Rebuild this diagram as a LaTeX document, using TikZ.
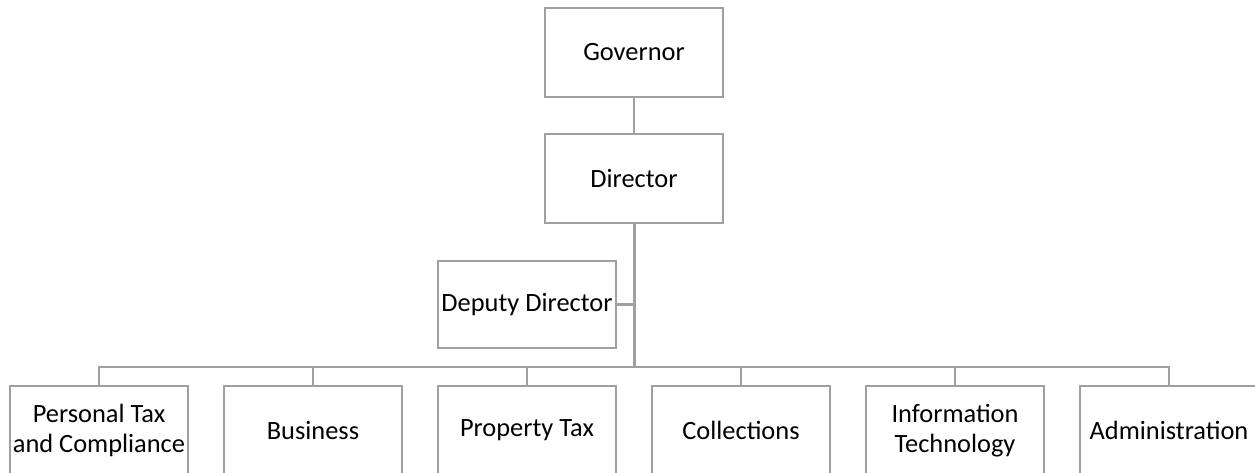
\documentclass[tikz,border=0pt]{standalone}
\usepackage{fontspec}
\setmainfont{Carlito}

\definecolor{linegray}{RGB}{160,160,160}
\tikzset{every picture/.style={line width=0.75pt}}
\tikzset{
  orgbox/.style={draw=linegray, line width=1.9pt, fill=white, inner sep=0pt,
    minimum width=133.5pt, minimum height=66.75pt, align=center,
    font=\fontsize{19.8}{22.5}\selectfont},
  orgline/.style={draw=linegray, line width=1.9pt},
}

\begin{document}
\begin{tikzpicture}[x=0.75pt,y=0.75pt,yscale=-1,xscale=1]
\useasboundingbox (0,0) rectangle (1255,473);
\clip (0,0) rectangle (1255,473);

%Shape: Top level
\node [orgbox] (governor) at (634,52.5) {Governor};
\node [orgbox] (director) at (634,178.5) {Director};
\node [orgbox, minimum height=65.25pt] (deputy) at (527,304.5) {Deputy Director};

%Shape: Divisions
\node [orgbox] (personal) at (99,430.5) {Personal Tax\\and Compliance};
\node [orgbox] (business) at (313,430.5) {Business};
\node [orgbox] (property) at (527,430.5) {Property Tax};
\node [orgbox] (collections) at (741,430.5) {Collections};
\node [orgbox] (infotech) at (955,430.5) {Information\\Technology};
\node [orgbox] (admin) at (1169,430.5) {Administration};

%Straight Lines
\coordinate (bus) at (634,367);
\draw [orgline] (governor.south) -- (director.north);
\draw [orgline, line width=2.25pt] (director.south) -- (bus);
\draw [orgline] (deputy.east) -- (deputy.east -| director.south);
\draw [orgline] (personal.north) |- (bus);
\draw [orgline] (business.north) |- (bus);
\draw [orgline] (property.north) |- (bus);
\draw [orgline] (collections.north) |- (bus);
\draw [orgline] (infotech.north) |- (bus);
\draw [orgline] (admin.north) |- (bus);

\end{tikzpicture}
\end{document}
